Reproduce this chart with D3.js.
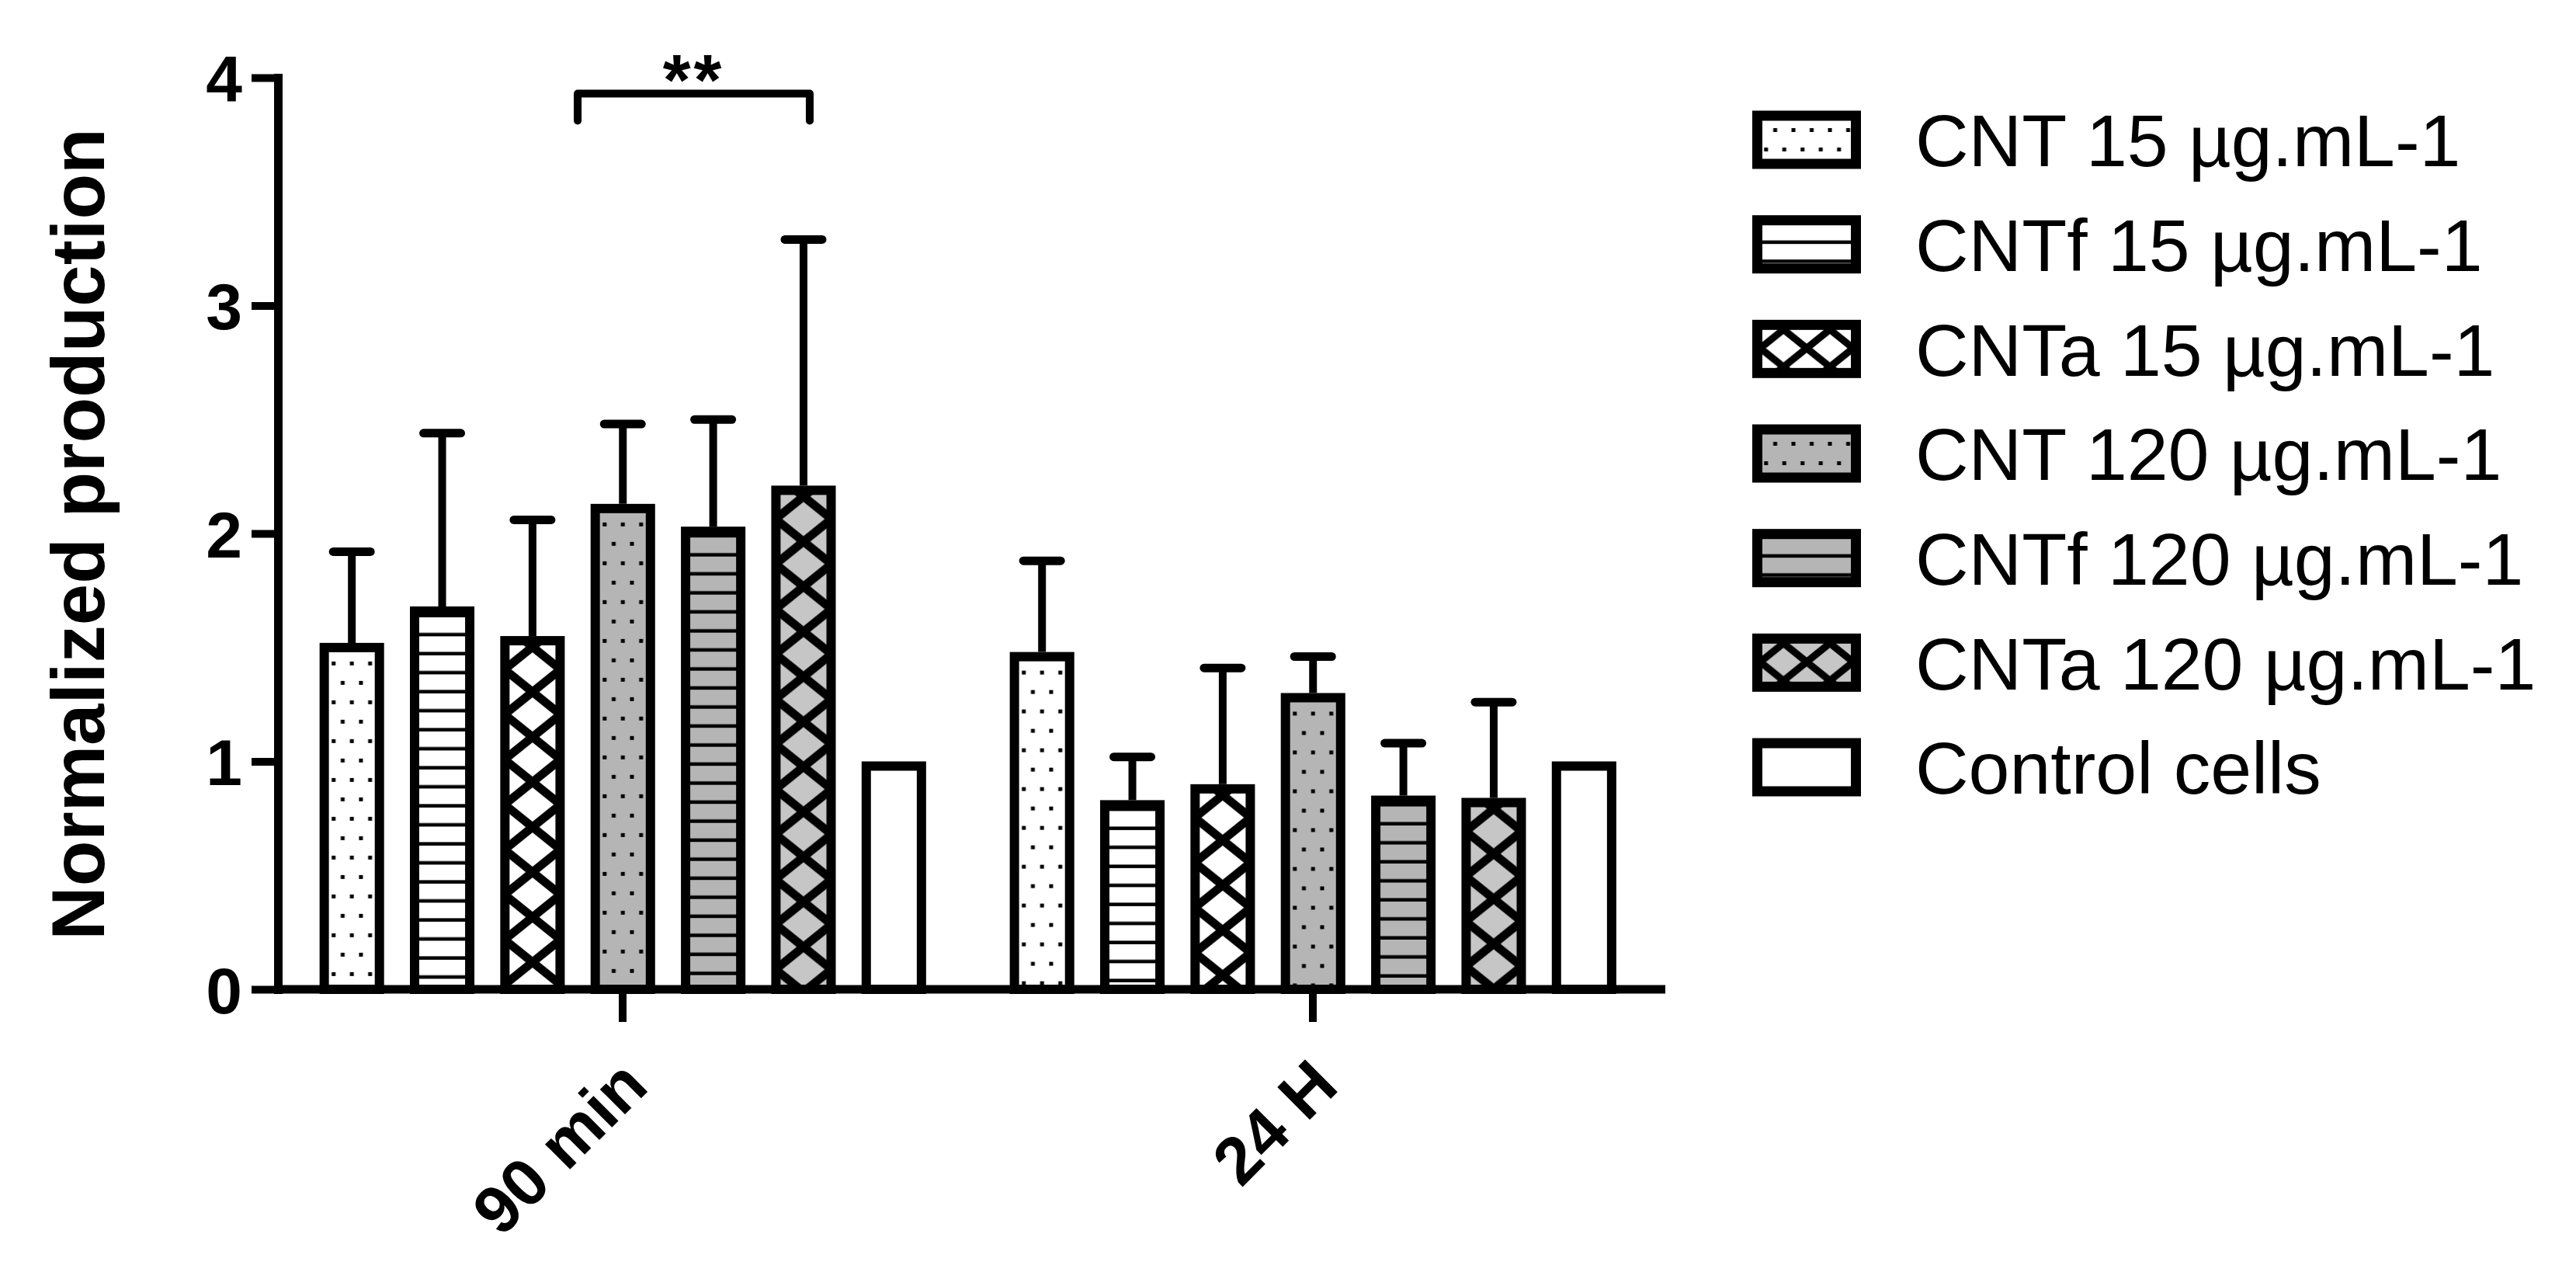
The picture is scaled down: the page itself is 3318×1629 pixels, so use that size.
<!DOCTYPE html>
<html lang="en">

<head>
  <meta charset="utf-8" />
  <title>Normalized production</title>
  <script src="https://cdn.jsdelivr.net/npm/d3@7"></script>
  <style>
    body {
      margin: 0;
      background: #fff;
    }

    text {
      font-family: "Liberation Sans", Arial, sans-serif;
      fill: #000;
    }
  </style>
</head>

<body>
  <script>
    // data
    var timepoints = ["90 min", "24 H"];
    var treatments = ["CNT 15 µg.mL-1", "CNTf 15 µg.mL-1", "CNTa 15 µg.mL-1",
      "CNT 120 µg.mL-1", "CNTf 120 µg.mL-1", "CNTa 120 µg.mL-1", "Control cells"];
    var mean90 = [1.52, 1.68, 1.55, 2.13, 2.03, 2.21, 1.00];
    var sd90 = [0.40, 0.76, 0.51, 0.35, 0.47, 1.08, 0];
    var mean24 = [1.48, 0.83, 0.90, 1.30, 0.85, 0.84, 1.00];
    var sd24 = [0.40, 0.19, 0.51, 0.16, 0.23, 0.42, 0];
    var yTicks = [0, 1, 2, 3, 4];
    // significance: 90 min, CNT 120 vs CNTa 120
    var signif = { group: "90 min", from: 3, to: 5, label: "**", level: 3.93 };

    // hatch style per treatment
    var kinds = ["dots", "lines", "cross", "dots", "lines", "cross", "none"];
    var fills = ["#fff", "#fff", "#fff", "#b5b5b5", "#b5b5b5", "#c6c6c6", "#fff"];

    var width = 3318, height = 1629;
    var svg = d3.select("body").append("svg")
      .attr("width", width)
      .attr("height", height);
    var defs = svg.append("defs");

    var y = d3.scaleLinear().domain([0, 4]).range([1274, 100]);
    var x0 = d3.scaleBand().domain(timepoints).range([357.5, 2135.5]);
    var x1 = d3.scaleBand().domain(treatments).range([37.5, 852])
      .paddingInner(0.286).paddingOuter(0.143);

    var rows = [];
    timepoints.forEach(function (t, gi) {
      var m = gi == 0 ? mean90 : mean24;
      var s = gi == 0 ? sd90 : sd24;
      treatments.forEach(function (tr, i) {
        rows.push({ group: t, name: tr, idx: i, mean: m[i], sd: s[i] });
      });
    });

    // one pattern per mark, so the hatch lines up on each bar
    function addPattern(id, kind, fill, ox, oy, k) {
      var p = defs.append("pattern").attr("id", id).attr("patternUnits", "userSpaceOnUse");
      if (kind == "dots") {
        p.attr("width", 23.5).attr("height", 50)
          .attr("patternTransform", "translate(" + (ox - 5.875) + "," + oy + ")");
        p.append("rect").attr("width", 23.5).attr("height", 50).attr("fill", fill);
        p.append("rect").attr("x", 3.4).attr("y", 10).attr("width", 5).attr("height", 5).attr("fill", "#000");
        p.append("rect").attr("x", 15.1).attr("y", 35).attr("width", 5).attr("height", 5).attr("fill", "#000");
      } else if (kind == "lines") {
        p.attr("width", 20).attr("height", 24.5)
          .attr("patternTransform", "translate(0," + oy + ")");
        p.append("rect").attr("width", 20).attr("height", 24.5).attr("fill", fill);
        p.append("rect").attr("y", 20).attr("width", 20).attr("height", 4.5).attr("fill", "#000");
      } else {
        var w = 72 * k, h = 58 * k;
        p.attr("width", w).attr("height", h)
          .attr("patternTransform", "translate(" + ox + "," + oy + ")");
        p.append("rect").attr("width", w).attr("height", h).attr("fill", fill);
        p.append("path")
          .attr("d", "M" + (-w / 2) + "," + (-h / 2) + "L" + (1.5 * w) + "," + (1.5 * h) +
            "M" + (1.5 * w) + "," + (-h / 2) + "L" + (-w / 2) + "," + (1.5 * h))
          .attr("stroke", "#000").attr("stroke-width", 11 * k);
      }
    }

    function fillFor(id, i, ox, oy, k) {
      if (kinds[i] == "none") return fills[i];
      addPattern(id, kinds[i], fills[i], ox, oy, k);
      return "url(#" + id + ")";
    }

    // bars
    var bw = x1.bandwidth();
    var bars = svg.append("g");
    rows.forEach(function (d, j) {
      var bx = x0(d.group) + x1(d.name);
      var top = y(d.mean);
      bars.append("rect")
        .attr("x", bx + 6)
        .attr("y", top + 6)
        .attr("width", bw - 12)
        .attr("height", y(0) - top - 6)
        .attr("fill", fillFor("p" + j, d.idx, bx + bw / 2, top + 14, 1))
        .attr("stroke", "#000")
        .attr("stroke-width", 12);
    });

    // error bars (upper only)
    var err = svg.append("g").attr("stroke", "#000");
    rows.filter(function (d) { return d.sd > 0; }).forEach(function (d) {
      var cx = x0(d.group) + x1(d.name) + bw / 2;
      err.append("line")
        .attr("x1", cx).attr("x2", cx)
        .attr("y1", y(d.mean)).attr("y2", y(d.mean + d.sd))
        .attr("stroke-width", 10);
      err.append("line")
        .attr("x1", cx - 24).attr("x2", cx + 24)
        .attr("y1", y(d.mean + d.sd)).attr("y2", y(d.mean + d.sd))
        .attr("stroke-width", 11)
        .attr("stroke-linecap", "round");
    });

    // y axis
    var yAxis = svg.append("g")
      .attr("transform", "translate(358,0)")
      .call(d3.axisLeft(y).tickValues(yTicks).tickSize(34).tickSizeOuter(0).tickPadding(12).tickFormat(d3.format("d")));
    yAxis.select(".domain").attr("stroke-width", 11).attr("stroke-linecap", "square");
    yAxis.selectAll(".tick line").attr("stroke-width", 10);
    yAxis.selectAll(".tick text")
      .attr("font-size", 84).attr("font-weight", "bold")
      .attr("font-family", "'Liberation Sans', Arial, sans-serif")
      .attr("dy", "0.36em");

    // x axis
    svg.append("line")
      .attr("x1", 353).attr("x2", 2145)
      .attr("y1", y(0)).attr("y2", y(0))
      .attr("stroke", "#000").attr("stroke-width", 11);
    var xAxis = svg.append("g")
      .attr("transform", "translate(0," + y(0) + ")")
      .call(d3.axisBottom(x0).tickSize(42));
    xAxis.select(".domain").remove();
    xAxis.selectAll(".tick line").attr("stroke-width", 10);
    xAxis.selectAll(".tick text")
      .attr("font-size", 86).attr("font-weight", "bold")
      .attr("font-family", "'Liberation Sans', Arial, sans-serif")
      .attr("text-anchor", "end")
      .attr("x", 0).attr("y", 0).attr("dy", 0)
      .attr("transform", "translate(36,128) rotate(-45)");

    // y label
    svg.append("text")
      .attr("transform", "translate(134," + ((y(0) + y(4)) / 2 + 1) + ") rotate(-90)")
      .attr("text-anchor", "middle")
      .attr("font-size", 96)
      .attr("font-weight", "bold")
      .text("Normalized production");

    // significance bracket
    var sx1 = x0(signif.group) + x1(treatments[signif.from]) - (x1.step() - bw) / 2;
    var sx2 = x0(signif.group) + x1(treatments[signif.to]) + bw / 2 + 8;
    var sy = y(signif.level);
    svg.append("path")
      .attr("d", "M" + sx1 + "," + (sy + 35) + "V" + sy + "H" + sx2 + "V" + (sy + 35))
      .attr("fill", "none")
      .attr("stroke", "#000")
      .attr("stroke-width", 10)
      .attr("stroke-linejoin", "round")
      .attr("stroke-linecap", "round");
    svg.append("text")
      .attr("x", (sx1 + sx2) / 2)
      .attr("y", sy + 14)
      .attr("text-anchor", "middle")
      .attr("font-size", 92)
      .attr("font-weight", "bold")
      .attr("letter-spacing", 4)
      .text(signif.label);

    // legend
    var ly = d3.scalePoint().domain(treatments).range([180, 988]);
    var legend = svg.append("g");
    treatments.forEach(function (t, i) {
      var cy = ly(t);
      legend.append("rect")
        .attr("x", 2263.5).attr("y", cy - 31)
        .attr("width", 127).attr("height", 62)
        .attr("fill", fillFor("lg" + i, i, 2327 + 30, cy - 31 + 6, 0.83))
        .attr("stroke", "#000")
        .attr("stroke-width", 13);
      legend.append("text")
        .attr("x", 2467).attr("y", cy)
        .attr("dy", "0.36em")
        .attr("font-size", 95)
        .text(t);
    });
  </script>
</body>

</html>
